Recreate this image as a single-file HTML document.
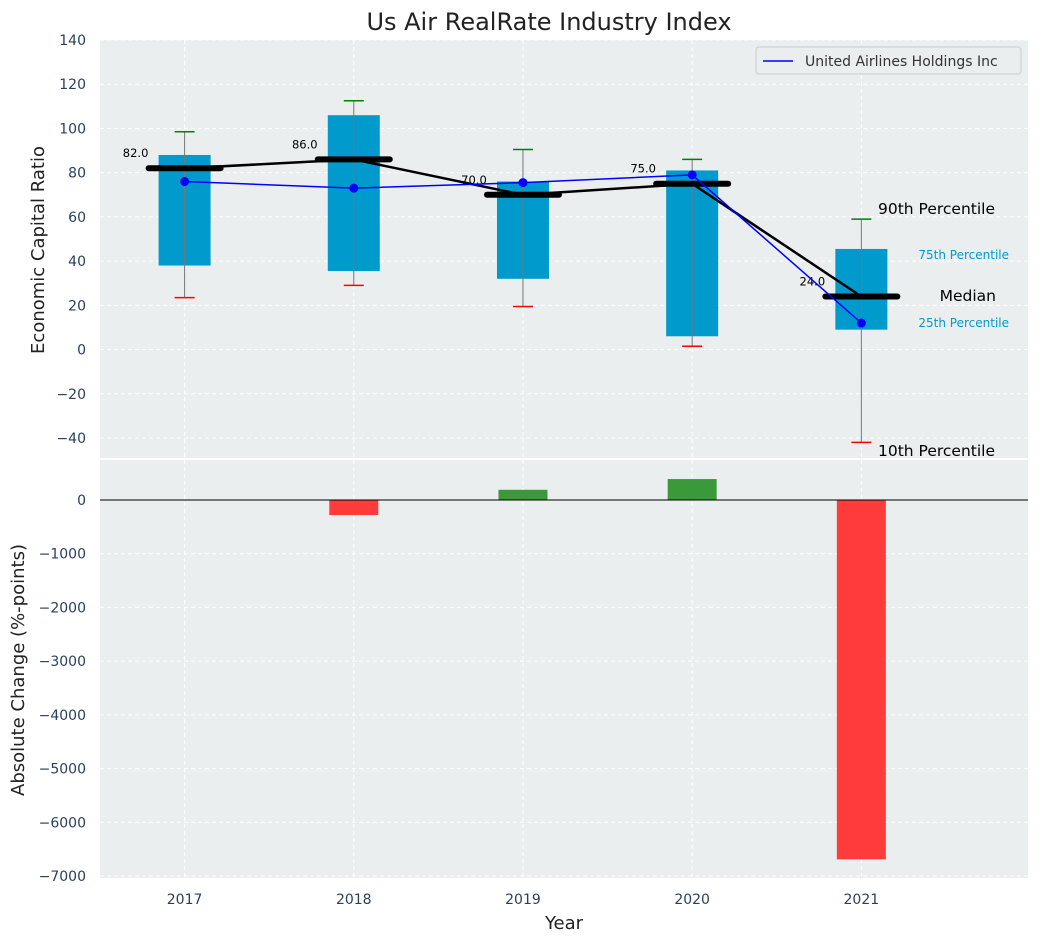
<!DOCTYPE html>
<html><head><meta charset="utf-8"><style>
body{margin:0;background:#fff;font-family:"Liberation Sans","DejaVu Sans",sans-serif}
svg text{font-family:"DejaVu Sans","Liberation Sans",sans-serif}
</style></head><body>
<svg id="chart" width="1039" height="942" xmlns="http://www.w3.org/2000/svg"></svg>
<script>
const years=[2017,2018,2019,2020,2021];
const p10=[23.5,29,19.5,1.5,-42];
const p25=[38,35.5,32,6,9];
const median=[82,86,70,75,24];
const p75=[88,106,76,81,45.5];
const p90=[98.5,112.5,90.5,86,59];
const united=[76,73,75.5,79,12];
const changes=[0,-280,190,390,-6690];
const topTicks=[-40,-20,0,20,40,60,80,100,120,140];
const botTicks=[-7000,-6000,-5000,-4000,-3000,-2000,-1000,0];

const svg=document.getElementById('chart');
const NS='http://www.w3.org/2000/svg';
function mk(tag,attrs,parent){const e=document.createElementNS(NS,tag);for(const k in attrs)e.setAttribute(k,attrs[k]);(parent||svg).appendChild(e);return e;}
const L=100,R=1028;
const x=v=>L+(v-2016.5)/(2021.985-2016.5)*(R-L);
const T0=40,T1=458;
const yT=v=>40+(140-v)*(398/180);
const B0=460,B1=878;
const yB=v=>500-v*(376/7000);

let e=mk('rect',{x:L,y:T0,width:R-L,height:T1-T0,fill:'#eaeeee'});


e=mk('rect',{x:L,y:B0,width:R-L,height:B1-B0,fill:'#eaeeee'});



topTicks.forEach(t=>{const y=yT(t);
 mk('line',{x1:L,x2:R,y1:y,y2:y,stroke:'#fff','stroke-dasharray':'4,3','stroke-width':1});
 e=mk('text',{x:L-14,y:y+5,'text-anchor':'end','font-size':14,fill:'#2a3f5f'});e.textContent=String(t).replace('-','−');
 
 
});
botTicks.forEach(t=>{const y=yB(t);
 mk('line',{x1:L,x2:R,y1:y,y2:y,stroke:'#fff','stroke-dasharray':'4,3','stroke-width':1});
 e=mk('text',{x:L-14,y:y+5,'text-anchor':'end','font-size':14,fill:'#2a3f5f'});e.textContent=String(t).replace('-','−');
 
 
});
years.forEach(yr=>{const xx=x(yr);
 mk('line',{x1:xx,x2:xx,y1:T0,y2:T1,stroke:'#fff','stroke-dasharray':'4,3'});
 mk('line',{x1:xx,x2:xx,y1:B0,y2:B1,stroke:'#fff','stroke-dasharray':'4,3'});
 e=mk('text',{x:xx,y:904,'text-anchor':'middle','font-size':14,fill:'#2a3f5f'});e.textContent=yr;
 
 
});

years.forEach((yr,i)=>{const xx=x(yr),w=52;
 e=mk('rect',{x:xx-w/2,y:yT(p75[i]),width:w,height:yT(p25[i])-yT(p75[i]),fill:'#009acd'});
 
 
 mk('line',{x1:xx,x2:xx,y1:yT(p90[i]),y2:yT(p10[i]),stroke:'#777','stroke-width':1});
 mk('line',{x1:xx-10,x2:xx+10,y1:yT(p90[i]),y2:yT(p90[i]),stroke:'green','stroke-width':1.5});
 mk('line',{x1:xx-10,x2:xx+10,y1:yT(p10[i]),y2:yT(p10[i]),stroke:'red','stroke-width':1.5});
});
mk('polyline',{points:years.map((yr,i)=>x(yr)+','+yT(median[i])).join(' '),fill:'none',stroke:'#000','stroke-width':2.5});
years.forEach((yr,i)=>{const xx=x(yr),y=yT(median[i]);
 e=mk('line',{x1:xx-36,x2:xx+36,y1:y,y2:y,stroke:'#000','stroke-width':6,'stroke-linecap':'round'});
 
 
 e=mk('text',{x:xx-49,y:y-11,'text-anchor':'middle','font-size':11.5,fill:'#000'});e.textContent=median[i].toFixed(1);
 
 
});
mk('polyline',{points:years.map((yr,i)=>x(yr)+','+yT(united[i])).join(' '),fill:'none',stroke:'blue','stroke-width':1.5});
years.forEach((yr,i)=>{e=mk('circle',{cx:x(yr),cy:yT(united[i]),r:4.5,fill:'blue'});
 
 });

const ann=[[878,214,'90th Percentile',15.5,'#000','start'],[1009,259,'75th Percentile',12,'#009acd','end'],[996,301,'Median',15.5,'#000','end'],[1009,327,'25th Percentile',12,'#009acd','end'],[878,456,'10th Percentile',15.5,'#000','start']];
ann.forEach(a=>{e=mk('text',{x:a[0],y:a[1],'font-size':a[3],fill:a[4],'text-anchor':a[5]});e.textContent=a[2];
 
 });

e=mk('rect',{x:756,y:47,width:265,height:27,fill:'#eaeeee',stroke:'#ccc',rx:3});


mk('line',{x1:763,x2:793,y1:61,y2:61,stroke:'blue','stroke-width':1.5});
e=mk('text',{x:805,y:66,'font-size':14,fill:'#333'});e.textContent='United Airlines Holdings Inc';



years.forEach((yr,i)=>{if(!changes[i])return;const v=changes[i],w=49;
 e=mk('rect',{x:x(yr)-w/2,y:Math.min(yB(v),yB(0)),width:w,height:Math.abs(yB(v)-yB(0)),fill:v<0?'#ff3b3b':'#3a9a3a'});
 
 
});
mk('line',{x1:L,x2:R,y1:yB(0),y2:yB(0),stroke:'#000','stroke-width':1});

e=mk('text',{x:549,y:30,'text-anchor':'middle','font-size':24,fill:'#222'});e.textContent='Us Air RealRate Industry Index';

e=mk('text',{x:44,y:250,'text-anchor':'middle','font-size':18,fill:'#222',transform:'rotate(-90 44 250)'});e.textContent='Economic Capital Ratio';

e=mk('text',{x:24,y:670,'text-anchor':'middle','font-size':18,fill:'#222',transform:'rotate(-90 24 670)'});e.textContent='Absolute Change (%-points)';

e=mk('text',{x:564,y:929,'text-anchor':'middle','font-size':18,fill:'#222'});e.textContent='Year';

</script>
</body></html>
